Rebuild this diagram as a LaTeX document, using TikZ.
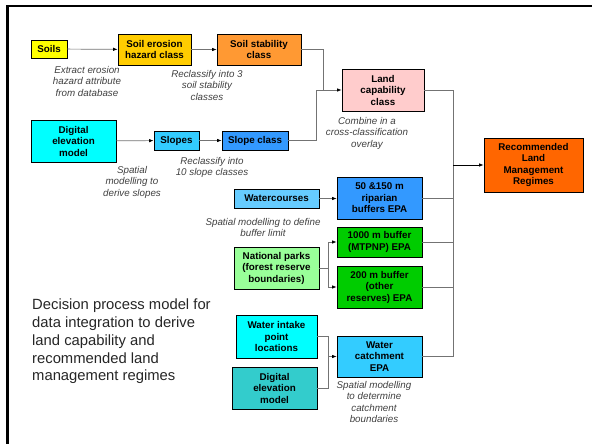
\documentclass[tikz,border=0pt]{standalone}
\usepackage{fontspec}
\setmainfont{Liberation Sans}
\usetikzlibrary{arrows.meta}
\definecolor{soilyellow}{HTML}{FFFF00}
\definecolor{erosiongold}{HTML}{FFCC00}
\definecolor{stabilityorange}{HTML}{FF9933}
\definecolor{capabilitypink}{HTML}{FFCCCC}
\definecolor{demcyan}{HTML}{00FFFF}
\definecolor{skyblue}{HTML}{33CCFF}
\definecolor{midblue}{HTML}{3399FF}
\definecolor{paleblue}{HTML}{66CCFF}
\definecolor{bufgreen}{HTML}{00CC00}
\definecolor{parkgreen}{HTML}{99FF99}
\definecolor{demteal}{HTML}{33CCCC}
\definecolor{regimeorange}{HTML}{FF6600}
\begin{document}
\begin{tikzpicture}[x=1pt,y=-1pt,
  box/.style={draw=black,line width=0.8pt,inner sep=0pt,align=center,font=\fontsize{9.8}{11.5}\selectfont\bfseries},
  note/.style={align=center,inner sep=0pt,text=black!75,font=\fontsize{9.8}{11.5}\selectfont\itshape},
  line/.style={draw=black!55,line width=0.7pt},
  arr/.style={line,-{Latex[length=4.5pt,width=3.5pt,color=black]}}]
\useasboundingbox (0,0) rectangle (592,444);
\draw[line width=2.6pt] (7.5,444) -- (7.5,6) -- (592,6);

% soils branch
\node[box,fill=soilyellow,minimum width=36,minimum height=18] (soils) at (49,49) {Soils};
\node[box,fill=erosiongold,minimum width=73,minimum height=31] (erosion) at (154.5,49.5) {Soil erosion\\hazard class};
\node[box,fill=stabilityorange,minimum width=84,minimum height=31] (stability) at (259,49.5) {Soil stability\\class};
\node[box,fill=capabilitypink,minimum width=82,minimum height=42] (landcap) at (383,90) {Land\\capability\\class};
\node[note] (extractnote) at (87,81) {Extract erosion\\hazard attribute\\from database};
\node[note] (reclassnote) at (207,85) {Reclassify into 3\\soil stability\\classes};
\node[note] (combinenote) at (367,133) {Combine in a\\cross-classification\\overlay};

% slopes branch
\node[box,fill=demcyan,minimum width=85,minimum height=42] (demtop) at (73.5,141) {Digital\\elevation\\model};
\node[box,fill=skyblue,minimum width=45,minimum height=19] (slopes) at (176.5,140.5) {Slopes};
\node[box,fill=midblue,minimum width=66,minimum height=19] (slopecls) at (255,140.5) {Slope class};
\node[note] (derivenote) at (132,182) {Spatial\\modelling to\\derive slopes};
\node[note] (slopenote) at (212,167.5) {Reclassify into\\10 slope classes};

% buffers
\node[box,fill=paleblue,minimum width=85,minimum height=19] (water) at (276.5,198.5) {Watercourses};
\node[box,fill=midblue,minimum width=85,minimum height=42] (riparian) at (379.5,198) {50 \&150 m\\riparian\\buffers EPA};
\node[note] (buffernote) at (263,227.5) {Spatial modelling to define\\buffer limit};
\node[box,fill=parkgreen,minimum width=85,minimum height=42] (parks) at (276.5,268) {National parks\\(forest reserve\\boundaries)};
\node[box,fill=bufgreen,minimum width=85,minimum height=30] (buffer1000) at (379.5,242) {1000 m buffer\\(MTPNP) EPA};
\node[box,fill=bufgreen,minimum width=85,minimum height=42] (buffer200) at (379.5,287) {200 m buffer\\(other\\reserves) EPA};

% catchment
\node[box,fill=demcyan,minimum width=81,minimum height=43] (intake) at (276.5,336.5) {Water intake\\point\\locations};
\node[box,fill=demteal,minimum width=85,minimum height=42] (dembot) at (274.5,388) {Digital\\elevation\\model};
\node[box,fill=skyblue,minimum width=85,minimum height=41] (catchment) at (379.5,356.5) {Water\\catchment\\EPA};
\node[note] (catchnote) at (374,402) {Spatial modelling\\to determine\\catchment\\boundaries};

\node[box,fill=regimeorange,minimum width=99,minimum height=54] (regimes) at (533.5,165) {Recommended\\Land\\Management\\Regimes};

\node[anchor=north west,align=left,inner sep=0pt,text=black!85,font=\fontsize{14.8}{17.7}\selectfont] (caption) at (32,299) {Decision process model for\\data integration to derive\\land capability and\\recommended land\\management regimes};

% connectors
\coordinate (capjoin) at (316,90);
\coordinate (stabdrop) at (323,90);
\coordinate (regjoin) at (453,165);
\coordinate (parksplit) at (328,268);
\coordinate (catchjoin) at (328,356.5);
\draw[arr] (soils) -- (erosion);
\draw[arr] (erosion) -- (stability);
\draw[line] (stability.east) -| (stabdrop);
\draw[arr] (demtop) -- (slopes);
\draw[arr] (slopes) -- (slopecls);
\draw[line] (slopecls.east) -| (capjoin);
\draw[arr] (capjoin) -- (landcap.west);
\draw[arr] (water) -- (riparian.west |- water);
\draw[line] (parks.east) -- (parksplit);
\draw[arr] (parksplit) |- (buffer1000.west);
\draw[arr] (parksplit) |- (buffer200.west);
\draw[line] (intake.east) -| (catchjoin);
\draw[line] (dembot.east) -| (catchjoin);
\draw[arr] (catchjoin) -- (catchment.west);
\foreach \src in {landcap,riparian,buffer1000,buffer200,catchment}
  \draw[line] (\src.east) -| (regjoin);
\draw[arr,draw=black] (regjoin) -- (regimes.west);
\end{tikzpicture}
\end{document}
